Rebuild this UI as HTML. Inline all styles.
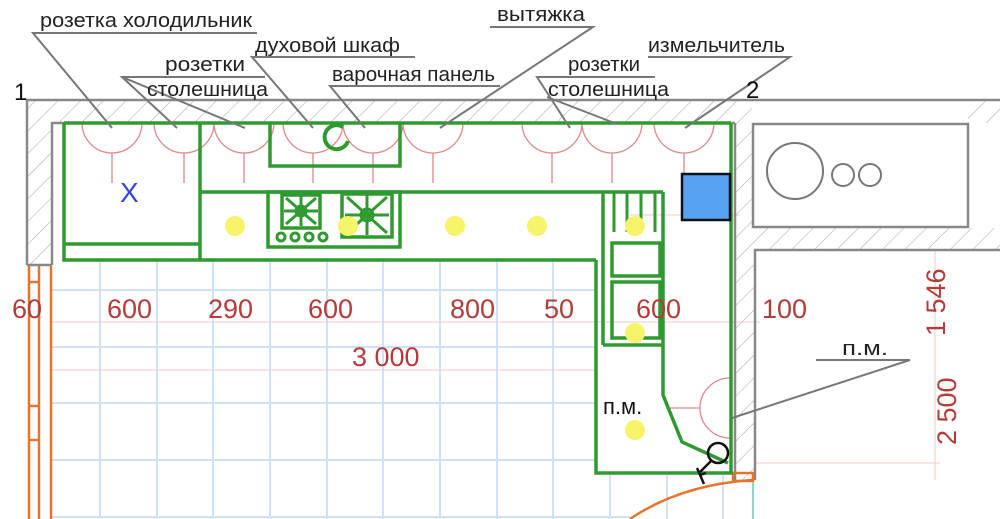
<!DOCTYPE html>
<html><head><meta charset="utf-8"><style>
html,body{margin:0;padding:0;background:#fff;}
svg{display:block;}
text{font-family:"Liberation Sans",sans-serif;}
</style></head><body>
<svg width="1000" height="519" viewBox="0 0 1000 519" xmlns="http://www.w3.org/2000/svg">
<defs>
<pattern id="h" width="16" height="16" patternUnits="userSpaceOnUse" patternTransform="rotate(45)">
<line x1="0" y1="0" x2="0" y2="16" stroke="#b0b0b0" stroke-width="1.2"/>
</pattern>
</defs>
<g stroke="#cfe0f7" stroke-width="2">
<line x1="100" y1="262" x2="100" y2="519"/><line x1="157" y1="262" x2="157" y2="519"/>
<line x1="213" y1="262" x2="213" y2="519"/><line x1="270" y1="262" x2="270" y2="519"/>
<line x1="327" y1="262" x2="327" y2="519"/><line x1="383" y1="262" x2="383" y2="519"/>
<line x1="440" y1="262" x2="440" y2="519"/><line x1="497" y1="262" x2="497" y2="519"/>
<line x1="553" y1="262" x2="553" y2="519"/><line x1="610" y1="475" x2="610" y2="519"/>
<line x1="667" y1="475" x2="667" y2="519"/><line x1="723" y1="475" x2="723" y2="519"/>
<line x1="52" y1="290" x2="596" y2="290"/><line x1="52" y1="347" x2="596" y2="347"/>
<line x1="52" y1="403" x2="596" y2="403"/><line x1="52" y1="460" x2="596" y2="460"/>
<line x1="52" y1="517" x2="630" y2="517"/>
</g>
<g stroke="#f0c8c8" stroke-width="1">
<line x1="52" y1="322" x2="760" y2="322"/><line x1="52" y1="370" x2="596" y2="370"/>
<line x1="935" y1="250" x2="935" y2="480"/><line x1="755" y1="463" x2="940" y2="463"/>
<line x1="630" y1="215" x2="740" y2="215"/>
</g>
<path d="M27 100 H1000 V123 H968 V100 H752 V250 H755 V480 H735 V123 H52 V265 H27 Z" fill="url(#h)" stroke="none"/>
<rect x="752" y="228" width="248" height="22" fill="url(#h)"/>
<g fill="none" stroke="#888" stroke-width="2.5">
<polyline points="27,265 27,100 1000,100"/>
<polyline points="52,265 52,123 735,123"/>
<rect x="753" y="124" width="215" height="103"/>
<polyline points="1000,250 755,250 755,480"/>
<line x1="735" y1="123" x2="735" y2="480"/>
<line x1="27" y1="265" x2="52" y2="265"/>
</g>
<g fill="none" stroke="#777" stroke-width="2">
<circle cx="795" cy="171" r="28"/><circle cx="843" cy="175" r="11"/><circle cx="870" cy="175" r="11"/>
</g>
<g fill="none" stroke="#e8732a" stroke-width="2.5">
<line x1="29" y1="266" x2="29" y2="519"/><line x1="39" y1="266" x2="39" y2="519"/><line x1="51" y1="266" x2="51" y2="519"/>
<line x1="29" y1="282" x2="39" y2="282"/><line x1="29" y1="406" x2="39" y2="406"/><line x1="29" y1="440" x2="39" y2="440"/>
<path d="M630 519 Q680 485 752 480"/>
<rect x="733" y="473" width="20" height="8"/>
</g>
<line x1="753" y1="482" x2="753" y2="519" stroke="#8fd8c8" stroke-width="2"/>
<g fill="none" stroke="#d88" stroke-width="1.3">
<path d="M82 123 A30 30 0 0 0 142 123 M112 153 V183"/>
<path d="M154 123 A30 30 0 0 0 214 123 M184 153 V183"/>
<path d="M214 123 A30 30 0 0 0 274 123 M244 153 V183"/>
<path d="M283 123 A30 30 0 0 0 343 123 M313 153 V183"/>
<path d="M343 123 A30 30 0 0 0 403 123 M373 153 V183"/>
<path d="M403 123 A30 30 0 0 0 463 123 M433 153 V183"/>
<path d="M522 123 A30 30 0 0 0 582 123 M552 153 V183"/>
<path d="M582 123 A30 30 0 0 0 642 123 M612 153 V183"/>
<path d="M654 123 A30 30 0 0 0 714 123 M684 153 V183"/>
<path d="M730 378 A30 30 0 0 0 730 438 M700 408 H670"/>
</g>
<line x1="64" y1="123" x2="733" y2="123" stroke="#d9a070" stroke-width="1.5"/>
<g fill="none" stroke="#2f9a2f" stroke-width="3.5">
<polyline points="64,123 64,260 596,260"/>
<line x1="64" y1="123" x2="731" y2="123"/>
<polyline points="731,123 731,473 596,473 596,260"/>
<line x1="200" y1="123" x2="200" y2="260"/>
<line x1="64" y1="244" x2="200" y2="244"/>
<line x1="200" y1="192" x2="663" y2="192"/>
<polyline points="663,192 663,395 682,442 728,463"/>
<polyline points="270,123 270,166 400,166 400,123"/>
<rect x="268" y="192" width="132" height="55"/>
<rect x="282" y="195" width="38" height="33"/>
<rect x="342" y="194" width="50" height="43"/>
<line x1="603" y1="192" x2="603" y2="345"/>
<line x1="603" y1="345" x2="663" y2="345"/>
<rect x="612" y="243" width="48" height="33"/>
<rect x="612" y="282" width="48" height="56"/>
</g>
<g stroke="#2f9a2f" stroke-width="3" fill="none">
<line x1="614" y1="193" x2="614" y2="232"/><line x1="627" y1="193" x2="627" y2="232"/>
<line x1="641" y1="193" x2="641" y2="232"/><line x1="655" y1="193" x2="655" y2="232"/>
<circle cx="281" cy="237" r="4"/><circle cx="295" cy="237" r="4"/><circle cx="309" cy="237" r="4"/><circle cx="323" cy="237" r="4"/>
<circle cx="301" cy="211" r="5"/><path d="M286 198 L316 224 M316 198 L286 224 M301 196 V226 M284 211 H318"/>
<circle cx="367" cy="215" r="6"/><path d="M347 197 L387 233 M387 197 L347 233 M367 195 V235 M345 215 H389"/>
<path d="M348 141 A12 12 0 1 1 343 127" stroke-width="4"/>
</g>
<g fill="#f7f36a">
<circle cx="235" cy="226" r="10"/><circle cx="348" cy="226" r="10"/><circle cx="455" cy="226" r="10"/>
<circle cx="537" cy="226" r="10"/><circle cx="635" cy="226" r="10"/><circle cx="635" cy="333" r="10"/><circle cx="635" cy="430" r="10"/>
</g>
<rect x="682" y="174" width="48" height="46" fill="#58a2f2" stroke="#111" stroke-width="2.5"/>
<text x="120" y="202" font-size="28" fill="#3344dd">X</text>
<g fill="none" stroke="#111" stroke-width="2.5">
<circle cx="718" cy="453" r="10"/><line x1="711" y1="461" x2="700" y2="472"/><path d="M697 468 L704 484 M700 475 L706 473"/>
</g>
<g stroke="#777" stroke-width="2" fill="none">
<polyline points="257,33 33,33 112,128"/>
<polyline points="415,57 252,57 313,128"/>
<polyline points="265,77 122,77 177,128"/><line x1="122" y1="77" x2="245" y2="128"/>
<polyline points="500,86 330,86 365,128"/>
<polyline points="490,27 593,27 440,128"/>
<polyline points="655,77 537,77 570,128"/><line x1="547" y1="97" x2="617" y2="124"/>
<polyline points="648,57 790,57 685,128"/>
<polyline points="816,360 910,360 732,418"/>
</g>
<g font-size="20" fill="#222" lengthAdjust="spacingAndGlyphs">
<text x="40" y="27" textLength="212" lengthAdjust="spacingAndGlyphs">розетка холодильник</text>
<text x="255" y="52" textLength="145" lengthAdjust="spacingAndGlyphs">духовой шкаф</text>
<text x="165" y="71" textLength="80" lengthAdjust="spacingAndGlyphs">розетки</text>
<text x="147" y="96" textLength="121" lengthAdjust="spacingAndGlyphs">столешница</text>
<text x="332" y="81" textLength="163" lengthAdjust="spacingAndGlyphs">варочная панель</text>
<text x="497" y="21" textLength="88" lengthAdjust="spacingAndGlyphs">вытяжка</text>
<text x="568" y="71" textLength="72" lengthAdjust="spacingAndGlyphs">розетки</text>
<text x="548" y="96" textLength="121" lengthAdjust="spacingAndGlyphs">столешница</text>
<text x="648" y="52" textLength="137" lengthAdjust="spacingAndGlyphs">измельчитель</text>
<text x="842" y="355" textLength="46" lengthAdjust="spacingAndGlyphs">п.м.</text>
</g>
<text x="14" y="100" font-size="24" fill="#111">1</text>
<text x="746" y="98" font-size="24" fill="#111">2</text>
<text x="603" y="414" font-size="22" fill="#111">п.м.</text>
<g font-size="27" fill="#b53a3a">
<text x="12" y="318">60</text><text x="107" y="318">600</text><text x="208" y="318">290</text>
<text x="308" y="318">600</text><text x="450" y="318">800</text><text x="544" y="318">50</text>
<text x="636" y="318">600</text><text x="762" y="318">100</text><text x="352" y="366">3 000</text>
<text transform="translate(945,336) rotate(-90)">1 546</text>
<text transform="translate(956,445) rotate(-90)">2 500</text>
</g>
</svg>
</body></html>
